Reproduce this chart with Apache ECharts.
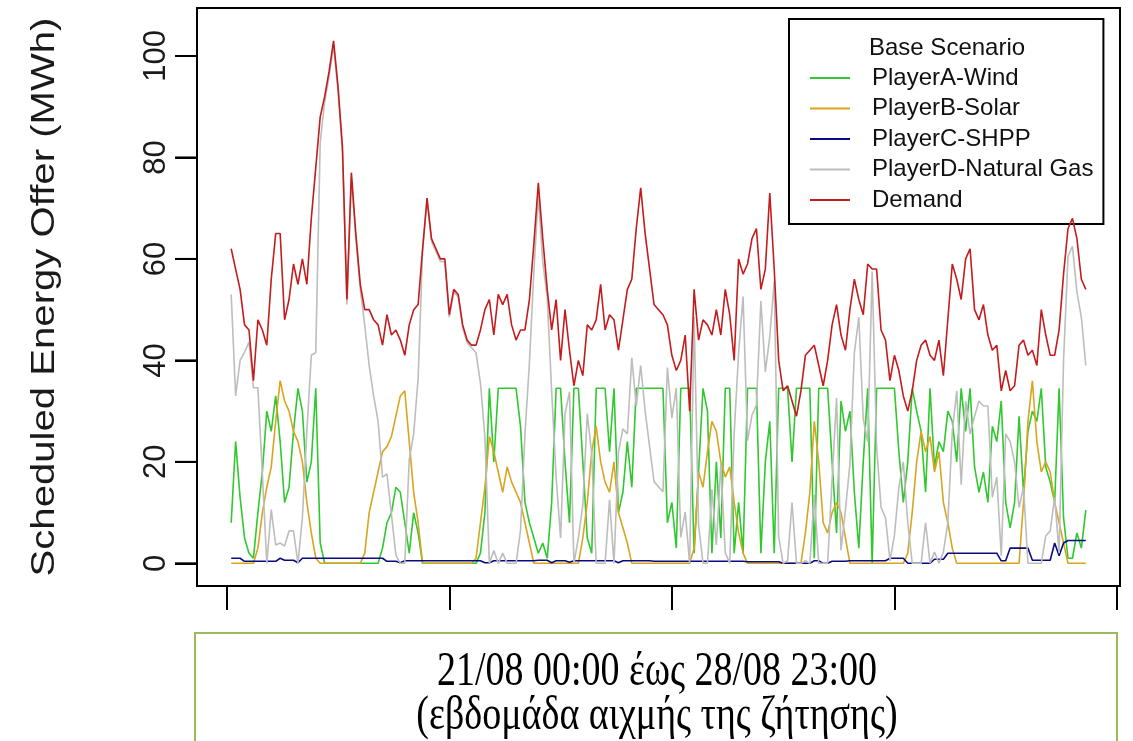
<!DOCTYPE html>
<html>
<head>
<meta charset="utf-8">
<script src="https://cdn.jsdelivr.net/npm/echarts@6/dist/echarts.min.js"></script>
<style>
  html, body { margin: 0; padding: 0; background: #ffffff; }
  #chart { width: 1133px; height: 741px; }
</style>
</head>
<body>
<div id="chart"></div>
<script>
// Hourly scheduled energy per player, 21/08 00:00 onwards (MWh)
const demand = [
  62,58,54,47,46,36,48,46,43,56,
  65,65,48,52,59,55,60,55,68,78,
  88,92,97,103,94,82,52,77,65,55,
  50,50,48,47,43,49,45,46,44,41,
  47,50,51,62,72,64,62,60,60,49,
  54,53,47,44,43,43,46,50,52,45,
  53,51,53,47,44,46,46,52,63,75,
  64,54,46,52,40,50,42,35,40,37,
  47,46,48,55,46,49,48,42,48,54,
  56,66,74,65,58,51,50,49,47,41,
  38,40,45,30,54,44,48,47,45,50,
  45,54,49,40,60,57,59,64,66,54,
  58,73,58,40,34,35,32,29,34,41,
  42,43,39,35,40,47,51,45,42,50,
  56,52,49,59,58,58,46,44,36,41,
  38,33,30,34,40,43,44,41,40,44,
  37,48,59,56,52,60,62,50,48,51,
  45,42,43,34,38,34,35,43,44,41,
  42,39,50,45,41,41,46,57,66,68,
  64,56,54
];

const wind = [
  8,24,13,5,2,1,10,18,30,26,
  33,24,12,15,26,34.5,30,16,20,34.5,
  4,0,0,0,0,0,0,0,0,0,
  0,0,0,0,3,8,10,15,14,8,
  2,10,6,0,0,0,0,0,0,0,
  0,0,0,0,0,0,2,10,34.5,20,
  34.5,34.5,34.5,34.5,34.5,27,12,8,5,2,
  4,1,12,34.5,34.5,20,8,34.5,34.5,20,
  5,2,34.5,34.5,34.5,22,34.5,10,14,24,
  15,34.5,34.5,34.5,34.5,34.5,34.5,34.5,8,12,
  3,34.5,34.5,34.5,2,18,34.5,30,2,20,
  5,34.5,34.5,2,12,2,34.5,34.5,34.5,2,
  20,28,2,34.5,34.5,34.5,20,34.5,34.5,34.5,
  34.5,1,34.5,34.5,34.5,20,6,32,26,30,
  14,3,20,34.5,0,34.5,34.5,34.5,34.5,34.5,
  22,12,20,34.5,30,26,14,34.5,19,24,
  22,30,28,20,34.5,26,34.5,19,14,18,
  12,27,24,32,12,7,12,29,14,26,
  30,28,34.5,19,16,12,34.5,9,1,1,
  6,3,10.5
];

const solar = [
  0,0,0,0,0,0,3,10,15,19,
  28,36,32,30,26,24,20,12,6,1,
  0,0,0,0,0,0,0,0,0,0,
  2,10,14,18,22,23,25,29,33,34,
  24,14,8,0,0,0,0,0,0,0,
  0,0,0,0,0,1,8,15,25,22,
  18,14,19,16,14,12,8,4,0,0,
  0,0,0,0,0,0,0,0,0,5,
  12,22,27,20,16,14,20,10,7,4,
  0,0,0,0,0,0,0,0,0,0,
  0,0,0,0,3,18,15,22,28,26,
  20,17,19,12,6,2,0,0,0,0,
  0,0,0,0,0,0,0,0,0,6,
  14,28,20,8,6,10,12,10,5,0,
  0,0,0,0,0,0,0,0,0,0,
  0,0,2,10,20,26,22,25,18,22,
  12,8,3,0,0,0,0,0,0,0,
  0,0,0,0,0,0,0,0,12,28,
  36,24,18,20,18,12,8,4,0,0,
  0,0,0
];

const shpp = [
  1,1,1,0.4,0.4,0.4,0.4,0.4,0.4,0.4,
  0.4,1,0.6,0.6,0.6,0.1,1,1,1,1,
  1,1,1,1,1,1,1,1,1,1,
  1,1,1,1,1,0.4,0.4,0.4,0.1,0.5,
  0.5,0.5,0.5,0.5,0.5,0.5,0.5,0.5,0.5,0.5,
  0.5,0.5,0.5,0.5,0.5,0.5,0.5,0.1,0.1,0.5,
  0.5,0.5,0.5,0.5,0.5,0.5,0.5,0.5,0.5,0.6,
  0.6,0.6,0.1,0.5,0.5,0.5,0.2,0.5,0.5,0.5,
  0.5,0.5,0.5,0.5,0.5,0.5,0.5,0.1,0.5,0.5,
  0.5,0.5,0.5,0.5,0.5,0.4,0.4,0.4,0.4,0.4,
  0.4,0.4,0.4,0.4,0.4,0.4,0.4,0.4,0.4,0.4,
  0.4,0.4,0.4,0.4,0.4,0.4,0.3,0.3,0.3,0.3,
  0.3,0.3,0.3,0.3,0,0,0,0,0,0,
  0,0.5,0.5,0,0,0.4,0.4,0.4,0.4,0.5,
  0.5,0.5,0.5,0.5,0.5,0.5,0.5,0.5,1,1,
  1,1,0,0,0,0,0,0,0.8,0.8,
  0.8,2,2,2,2,2,2,2,2,2,
  2,2,2,0.5,0.5,3,3,3,3,3,
  0.6,0.6,0.6,0.6,0.6,4,1.5,4,4.5,4.5,
  4.5,4.5,4.5
];

const naturalGas = [
  53,33,40,41.6,43.6,34.6,34.6,17.6,0,10.6,
  3.6,4,3.4,6.4,6.4,0,9,26,41,41.5,
  83,91,96,102,93,81,51,76,64,54,
  47,39,33,28,17,17.6,9.6,1.6,0,0,
  20.5,25.5,36.5,61.5,71.5,63.5,61.5,59.5,59.5,48.5,
  53.5,52.5,46.5,43.5,42.5,41.5,35.5,24.9,0,2.5,
  0,2,0,0,0,6.5,25.5,39.5,57.5,72.4,
  59.4,52.4,33.9,17,5,29.5,33.8,0,5,11.5,
  29.5,21.5,0,0,0,12.5,0,21.9,26.5,25.5,
  40.5,31,39,30,23,16.1,15.1,14.1,38.6,28.6,
  34.6,5.1,10.1,0,48.6,7.6,0,0,14.6,3.6,
  19.6,2.1,0,25.6,41.6,52.6,24.2,29.2,31.2,51.7,
  37.7,44.7,55.7,5.2,0,0.5,12,0,0,0.5,
  0,13.5,0,0,0,16.6,32.6,2.6,10.6,19.5,
  41.5,48.5,28.5,24,57.5,23,11,9,0.5,5.5,
  15,20,8,0,0,0,8,0,2.2,0,
  2.2,8,26,34,15.5,32,25.5,29,32,31,
  31,13,17,1.5,25.5,24,20,11,15,0,
  0,0,0,5.4,6.4,13,2,40,60.5,62.5,
  53.5,48.5,39
];

const seriesNames = ['PlayerA-Wind', 'PlayerB-Solar', 'PlayerC-SHPP', 'PlayerD-Natural Gas', 'Demand'];
const xTicks = [0, 50, 100, 150, 200];
const yTicks = [0, 20, 40, 60, 80, 100];
const yTitle = 'Scheduled Energy Offer (MWh)';
const legendTitle = 'Base Scenario';
const periodLine = '21/08 00:00 έως 28/08 23:00';
const periodNote = '(εβδομάδα αιχμής της ζήτησης)';

// x runs over the hour number 1..N
const hours = demand.map((_, k) => k + 1);

const colors = ['#2fc92f', '#d9a520', '#0b0b80', '#bdbdbd', '#c41c1c'];
const values = [wind, solar, shpp, naturalGas, demand];

const xRange = { min: -6.68, max: 200.68 };
const yRange = { min: -4.47, max: 109.46 };
const yTickLength = 22;

const chart = echarts.init(document.getElementById('chart'), null, { renderer: 'canvas' });

const series = seriesNames.map((name, s) => ({
  name: name,
  type: 'line',
  data: hours.map((h, k) => [h, values[s][k]]),
  showSymbol: false,
  symbol: 'none',
  color: colors[s],
  itemStyle: { color: colors[s] },
  lineStyle: { color: colors[s], width: 1.6 },
  emphasis: { disabled: true },
  z: 2 + s
}));

const axisStroke = { color: '#000', width: 2 };

const baseGraphics = [
  {
    id: 'ytitle',
    type: 'text',
    x: 45, y: 297, rotation: Math.PI / 2, scaleX: 1.18,
    style: {
      text: yTitle, fontSize: 34, fontFamily: 'Liberation Sans',
      align: 'center', verticalAlign: 'middle', fill: '#1a1a1a'
    }
  },
  {
    id: 'periodBox',
    type: 'rect',
    shape: { x: 195, y: 633, width: 922, height: 140 },
    style: { fill: '#ffffff', stroke: '#9bbb59', lineWidth: 2 },
    z: 1
  },
  {
    id: 'periodLine',
    type: 'text',
    x: 657, y: 672, scaleY: 1.28,
    style: {
      text: periodLine, fontSize: 38, fontFamily: 'Liberation Serif',
      align: 'center', verticalAlign: 'middle', fill: '#000'
    },
    z: 2
  },
  {
    id: 'periodNote',
    type: 'text',
    x: 657, y: 716, scaleY: 1.28,
    style: {
      text: periodNote, fontSize: 38, fontFamily: 'Liberation Serif',
      align: 'center', verticalAlign: 'middle', fill: '#000'
    },
    z: 2
  }
];

const option = {
  animation: false,
  backgroundColor: '#ffffff',
  textStyle: { fontFamily: 'Liberation Sans' },
  grid: {
    left: 197, right: 13, top: 8, bottom: 155,
    show: true, borderColor: '#000', borderWidth: 2, backgroundColor: 'transparent'
  },
  xAxis: {
    type: 'value',
    min: xRange.min, max: xRange.max,
    axisLine: { show: true, onZero: false, lineStyle: axisStroke },
    splitLine: { show: false },
    axisTick: {
      show: true, inside: false, length: 24, customValues: xTicks,
      lineStyle: axisStroke
    },
    axisLabel: { show: false, customValues: xTicks }
  },
  yAxis: {
    type: 'value',
    min: yRange.min, max: yRange.max,
    position: 'left',
    axisLine: { show: true, onZero: false, lineStyle: axisStroke },
    splitLine: { show: false },
    axisTick: {
      show: true, inside: false, length: yTickLength, customValues: yTicks,
      lineStyle: axisStroke
    },
    axisLabel: {
      show: true, customValues: yTicks, rotate: 90, margin: 25,
      fontSize: 31, color: '#1a1a1a', fontFamily: 'Liberation Sans'
    }
  },
  title: {
    text: legendTitle,
    left: 864, top: 31,
    textStyle: { fontSize: 24, fontWeight: 'normal', color: '#111', fontFamily: 'Liberation Sans' },
    z: 10
  },
  legend: {
    data: seriesNames,
    orient: 'vertical',
    left: 789, top: 19,
    padding: [47, 10, 12, 21],
    itemWidth: 40, itemHeight: 2,
    itemGap: 6.5,
    icon: 'rect',
    backgroundColor: '#ffffff',
    borderColor: '#000', borderWidth: 2, borderRadius: 0,
    selectedMode: false,
    textStyle: {
      fontSize: 24, lineHeight: 24, color: '#111', fontFamily: 'Liberation Sans',
      padding: [0, 0, 0, 17]
    }
  },
  graphic: baseGraphics,
  series: series
};

chart.setOption(option);

// Outward tick marks on the left edge of the box, placed through the axis scales
const boxLeft = chart.convertToPixel({ xAxisIndex: 0 }, xRange.min);
const yTickMarks = yTicks.map((v, k) => {
  const py = chart.convertToPixel({ yAxisIndex: 0 }, v);
  return {
    id: 'ytick' + k,
    type: 'line',
    shape: { x1: boxLeft - yTickLength, y1: py, x2: boxLeft, y2: py },
    style: { stroke: '#000', lineWidth: 2 },
    z: 50
  };
});
chart.setOption({ graphic: baseGraphics.concat(yTickMarks) });
</script>
</body>
</html>
